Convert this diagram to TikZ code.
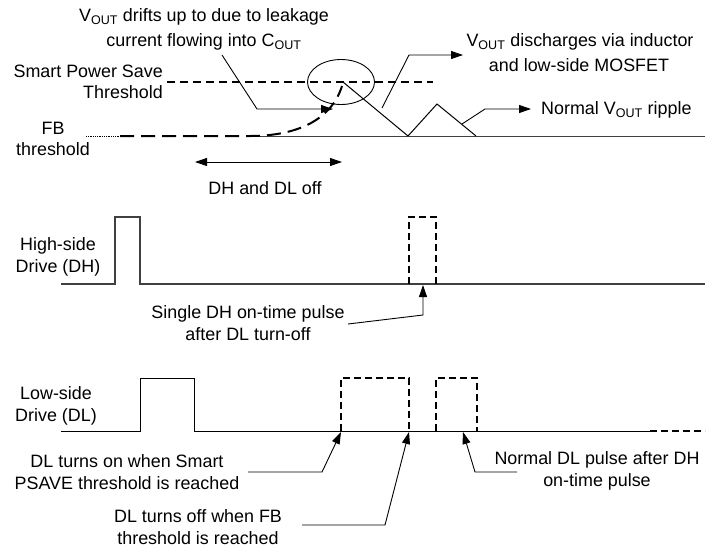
\documentclass[tikz,border=0pt]{standalone}
\usepackage{fontspec}
\setmainfont{Liberation Sans}
\usetikzlibrary{arrows.meta,shapes.geometric}
\newcommand\sbs[1]{\textsubscript{#1}}
\begin{document}
\begin{tikzpicture}[x=1pt,y=-1pt,
  lbl/.style={inner sep=0pt,align=center,font=\fontsize{17.9}{21.5}\selectfont},
  sig/.style={draw=black!75,line width=1.2pt},
  dsig/.style={draw=black,line width=1.8pt,dash pattern=on 7pt off 4pt},
  thr/.style={draw=black,line width=1.8pt,dash pattern=on 8pt off 5pt},
  drift/.style={draw=black,line width=2pt,dash pattern=on 14pt off 7pt},
  callout/.style={draw=black,line width=0.9pt,-{Triangle[length=12pt,width=8pt]}},
  span/.style={draw=black,line width=0.9pt,{Triangle[length=12pt,width=8pt]}-{Triangle[length=12pt,width=8pt]}}]
\useasboundingbox (0,0) rectangle (709,547);
% ---------- labels ----------
\node[lbl] (drifta) at (204,17) {V\sbs{OUT} drifts up to due to leakage};
\node[lbl] (driftb) at (204,42) {current flowing into C\sbs{OUT}};
\node[lbl,align=right,anchor=east] (sps) at (163,82) {Smart Power Save\\Threshold};
\node[lbl] (fb) at (53,139) {FB\\threshold};
\node[lbl] (disa) at (580,42) {V\sbs{OUT} discharges via inductor};
\node[lbl] (disb) at (579,65) {and low-side MOSFET};
\node[lbl,anchor=west] (ripple) at (541,110) {Normal V\sbs{OUT} ripple};
\node[lbl] (off) at (265,188) {DH and DL off};
\node[lbl] (dh) at (58,257) {High-side\\Drive (DH)};
\node[lbl] (single) at (248,323) {Single DH on-time pulse\\after DL turn-off};
\node[lbl] (dl) at (56,406) {Low-side\\Drive (DL)};
\node[lbl] (dlon) at (127,472) {DL turns on when Smart\\PSAVE threshold is reached};
\node[lbl] (dloff) at (198,527) {DL turns off when FB\\threshold is reached};
\node[lbl] (normal) at (597,471) {Normal DL pulse after DH\\on-time pulse};
% ---------- top: VOUT ----------
\draw[black,line width=0.8pt,densely dotted] (86,136) -- (120,136);
\draw[sig,line width=1pt] (250,136) -- (705,136);
\draw[drift] (120,136) -- (250,136) .. controls (300,136) and (332,118) .. (342,86);
\draw[thr] (167,82) -- (433,82);
\node[draw,line width=0.9pt,ellipse,minimum width=67pt,minimum height=45pt,inner sep=0pt] (circ) at (341,82) {};
\coordinate (peak) at (343,82);
\draw[black,line width=1pt] (peak) -- (408,136) -- (437,104) -- (476,136);
% callouts top
\coordinate (a1s) at (222,55); \coordinate (a1m) at (257,109); \coordinate (a1e) at (333,109);
\draw[callout] (a1s) -- (a1m) -- (a1e);
\coordinate (a2s) at (382,108); \coordinate (a2m) at (409,55); \coordinate (a2e) at (463,55);
\draw[callout] (a2s) -- (a2m) -- (a2e);
\coordinate (a3s) at (462,124); \coordinate (a3m) at (485,109); \coordinate (a3e) at (531,109);
\draw[callout] (a3s) -- (a3m) -- (a3e);
\coordinate (offl) at (195,162); \coordinate (offr) at (342,162);
\draw[span] (offl) -- (offr);
% ---------- DH ----------
\draw[sig] (61,284) -- (115,284) -- (115,217) -- (140,217) -- (140,284) -- (705,284);
\draw[dsig] (409,284) -- (409,217) -- (436,217) -- (436,284);
\coordinate (b1s) at (348,324); \coordinate (b1m) at (423,315); \coordinate (b1e) at (423,285);
\draw[callout] (b1s) -- (b1m) -- (b1e);
% ---------- DL ----------
\draw[sig,line width=1pt,draw=black] (61,431) -- (140,431) -- (140,378) -- (194,378) -- (194,431) -- (650,431);
\draw[dsig] (650,431) -- (705,431);
\draw[dsig] (341,431) -- (341,378) -- (409,378) -- (409,431);
\draw[dsig] (436,431) -- (436,378) -- (477,378) -- (477,431);
\coordinate (c1s) at (248,472); \coordinate (c1m) at (322,472); \coordinate (c1e) at (341,432);
\draw[callout] (c1s) -- (c1m) -- (c1e);
\coordinate (c2s) at (302,525); \coordinate (c2m) at (385,525); \coordinate (c2e) at (409,432);
\draw[callout] (c2s) -- (c2m) -- (c2e);
\coordinate (c3s) at (517,472); \coordinate (c3m) at (475,472); \coordinate (c3e) at (463,432);
\draw[callout] (c3s) -- (c3m) -- (c3e);
\end{tikzpicture}
\end{document}
